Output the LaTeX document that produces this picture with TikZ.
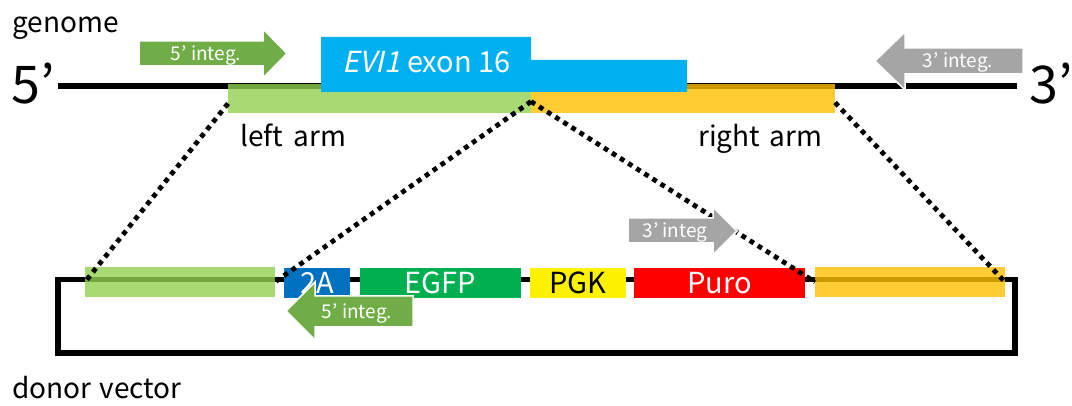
\documentclass[tikz,border=0pt]{standalone}
\usepackage{fontspec}
\setmainfont[AutoFakeSlant=0.22]{Noto Sans CJK JP}
\definecolor{armgreen}{HTML}{92D050}
\definecolor{armorange}{HTML}{FFC000}
\definecolor{exonblue}{HTML}{00B0F0}
\definecolor{twoablue}{HTML}{0070C0}
\definecolor{egfpgreen}{HTML}{00B050}
\definecolor{intgreen}{HTML}{70AD47}
\definecolor{intgray}{HTML}{A5A5A5}
\begin{document}
\begin{tikzpicture}[x=1pt,y=-1pt,
  dna/.style={line width=5.5pt},
  arm/.style={rectangle, inner sep=0pt, outer sep=0pt, fill opacity=0.8},
  cassette/.style={rectangle, inner sep=0pt, outer sep=0pt, minimum height=30pt, text=white, font=\fontsize{29}{32}\selectfont},
  dots/.style={line width=4.8pt, dash pattern=on 4.8pt off 4.8pt},
  integ/.style={draw=white, line width=1.5pt, line join=miter},
  integtext/.style={inner sep=0pt, text=white, font=\fontsize{19}{22}\selectfont},
  label/.style={inner sep=0pt, anchor=base west, font=\fontsize{28}{32}\selectfont},
  bigend/.style={inner sep=0pt, anchor=base west, font=\fontsize{52}{56}\selectfont}
]
\useasboundingbox (0,0) rectangle (1072,406);

% texts
\node[label] (genome) at (12,33) {genome};
\node[label] (donor) at (12,399) {donor\hspace{2pt} vector};
\node[bigend] (five) at (11,104) {5’};
\node[bigend] (three) at (1029,104) {3’};

% genome line
\draw[dna] (58,86) -- (1017,86);

% donor loop
\draw[dna] (58,279.5) rectangle (1015,353);

% arms on genome
\node[arm, fill=armgreen, minimum width=303pt, minimum height=29pt] (la) at (379.5,98.5) {};
\node[arm, fill=armorange, minimum width=304pt, minimum height=29pt] (ra) at (683,98.5) {};
\node[label] (lalab) at (240,147) {left\hspace{4pt} arm};
\node[label] (ralab) at (698,147) {right\hspace{3pt} arm};

% exon
\fill[exonblue] (321,37) -- (531,37) -- (531,60) -- (687,60) -- (687,92) -- (321,92) -- cycle;
\node[label, text=white, font=\fontsize{29}{34}\selectfont] (exon) at (342,73) {\textit{EVI1} exon 16};

% donor cassette
\node[arm, fill=armgreen, minimum width=190pt, minimum height=30pt] (dla) at (180,282) {};
\node[arm, fill=armorange, minimum width=190pt, minimum height=30pt] (dra) at (910,282) {};
\node[cassette, fill=twoablue, minimum width=66pt] (twoa) at (317,283) {2A};
\node[cassette, fill=egfpgreen, minimum width=161pt] (egfp) at (440.5,283) {EGFP};
\node[cassette, fill=yellow, minimum width=96pt, text=black] (pgk) at (578,283) {PGK};
\node[cassette, fill=red, minimum width=171pt] (puro) at (719.5,283) {Puro};

% dotted connectors
\draw[dots] ([yshift=-5pt]la.west) -- (dla.west);
\draw[dots] ([yshift=-3pt]la.east) -- (dla.east);
\draw[dots] ([yshift=-3pt]ra.west) -- (dra.west);
\draw[dots] ([yshift=-4pt]ra.east) -- (dra.east);

% integration arrows
\path[integ, fill=intgreen] (139,41) -- (263,41) -- (263,29) -- (287,53.5) -- (263,78) -- (263,66) -- (139,66) -- cycle;
\node[integtext] (i5top) at (206,55) {5’ integ.};

\path[integ, fill=intgray] (1023,48) -- (905,48) -- (905,32) -- (875,61) -- (905,90) -- (905,74) -- (1023,74) -- cycle;
\node[integtext] (i3top) at (958,62) {3’ integ.};

\path[integ, fill=intgreen] (413,296) -- (315,296) -- (315,282) -- (286,311) -- (315,340) -- (315,327) -- (413,327) -- cycle;
\node[integtext] (i5bot) at (357,313) {5’ integ.};

\path[integ, fill=intgray] (628,218) -- (713,218) -- (713,207) -- (737,231) -- (713,255) -- (713,243) -- (628,243) -- cycle;
\node[integtext] (i3bot) at (675,232) {3’ integ};
\end{tikzpicture}
\end{document}
